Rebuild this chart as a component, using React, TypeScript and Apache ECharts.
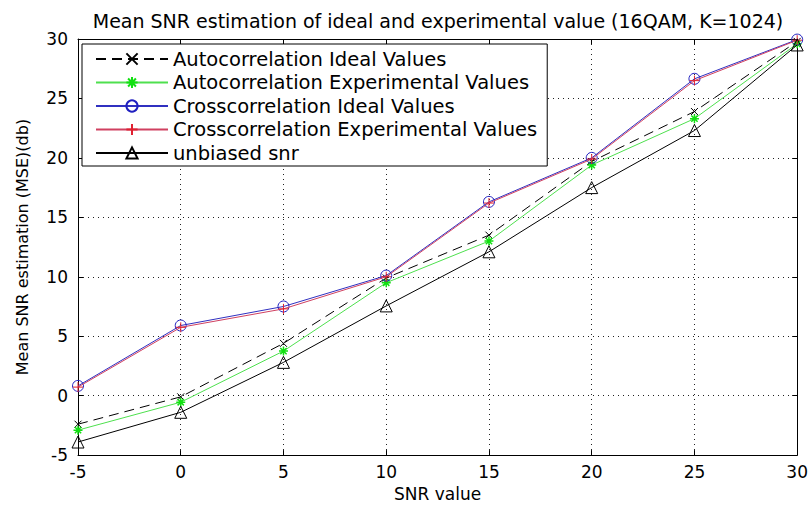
import React, { useEffect, useRef } from "react";
import * as echarts from "echarts";

const snr = [-5, 0, 5, 10, 15, 20, 25, 30];
const autoIdeal = [-2.4, -0.1, 4.4, 9.9, 13.5, 19.7, 23.9, 29.8];
const autoExp = [-2.9, -0.55, 3.75, 9.5, 13.0, 19.4, 23.3, 29.6];
const crossIdeal = [0.82, 5.9, 7.5, 10.1, 16.3, 20.0, 26.65, 29.95];
const crossExp = [0.72, 5.75, 7.3, 10.0, 16.2, 19.9, 26.5, 29.9];
const unbiased = [-3.9, -1.4, 2.8, 7.55, 12.1, 17.5, 22.3, 29.5];

const seriesNames = [
  "Autocorrelation Ideal Values",
  "Autocorrelation Experimental Values",
  "Crosscorrelation Ideal Values",
  "Crosscorrelation Experimental Values",
  "unbiased snr",
];

const FONT = "DejaVu Sans";

const pairs = (ys: number[]) => snr.map((x, i) => [x, ys[i]]);

export default function App() {
  const ref = useRef<HTMLDivElement>(null);
  useEffect(() => {
    if (!ref.current) return;
    const chart = echarts.init(ref.current, undefined, { renderer: "svg" });
    const axisCommon = {
      type: "value" as const,
      min: -5,
      max: 30,
      interval: 5,
      axisLine: { show: true, onZero: false, lineStyle: { color: "#000", width: 1 } },
      axisTick: { show: true, inside: true, length: 5, lineStyle: { color: "#000" } },
    };
    chart.setOption({
      animation: false,
      backgroundColor: "#fff",
      title: {
        text: "Mean SNR estimation of ideal and experimental value (16QAM, K=1024)",
        left: 438,
        textAlign: "center",
        top: 11,
        padding: 0,
        textStyle: { fontFamily: FONT, fontSize: 19, fontWeight: "normal", color: "#000" },
      },
      grid: { left: 78, right: 6, top: 39, bottom: 40, containLabel: false },
      legend: {
        orient: "vertical",
        left: 82,
        top: 44,
        data: seriesNames,
        itemWidth: 72,
        itemHeight: 14,
        itemGap: 3.5,
        padding: [5, 10, 3, 13],
        borderColor: "#000",
        borderWidth: 1,
        backgroundColor: "#fff",
        textStyle: { fontFamily: FONT, fontSize: 19.5, color: "#000" },
      },
      xAxis: [
        {
          ...axisCommon,
          position: "bottom",
          name: "SNR value",
          nameLocation: "middle",
          nameGap: 28,
          nameTextStyle: { fontFamily: FONT, fontSize: 17, color: "#000" },
          axisLabel: { fontFamily: FONT, fontSize: 17, color: "#000", margin: 8 },
          splitLine: { show: true, lineStyle: { color: "#222", type: [1, 4], width: 1 } },
        },
        {
          ...axisCommon,
          position: "top",
          axisLabel: { show: false },
          splitLine: { show: false },
        },
      ],
      yAxis: [
        {
          ...axisCommon,
          position: "left",
          name: "Mean SNR estimation (MSE)(db)",
          nameLocation: "middle",
          nameRotate: 90,
          nameGap: 48,
          nameTextStyle: { fontFamily: FONT, fontSize: 16, color: "#000" },
          axisLabel: { fontFamily: FONT, fontSize: 17, color: "#000", margin: 10 },
          splitLine: { show: true, lineStyle: { color: "#222", type: [1, 4], width: 1 } },
        },
        {
          ...axisCommon,
          position: "right",
          axisLabel: { show: false },
          splitLine: { show: false },
        },
      ],
      series: [
        {
          name: seriesNames[0],
          type: "line",
          data: pairs(autoIdeal),
          symbol: "path://M0,0L10,10M0,10L10,0",
          symbolSize: 7,
          itemStyle: { color: "transparent", borderColor: "#000", borderWidth: 1 },
          lineStyle: { color: "#000", width: 1, type: [10, 6] },
          z: 2,
        },
        {
          name: seriesNames[1],
          type: "line",
          data: pairs(autoExp),
          symbol: "path://M5,0L5,10M0,5L10,5M1.5,1.5L8.5,8.5M1.5,8.5L8.5,1.5",
          symbolSize: 9,
          itemStyle: { color: "transparent", borderColor: "#11e011", borderWidth: 1.5 },
          lineStyle: { color: "#4ee04e", width: 1 },
          z: 3,
        },
        {
          name: seriesNames[2],
          type: "line",
          data: pairs(crossIdeal),
          symbol: "circle",
          symbolSize: 11,
          itemStyle: { color: "transparent", borderColor: "#2020c0", borderWidth: 1 },
          lineStyle: { color: "#3030c0", width: 1 },
          z: 4,
        },
        {
          name: seriesNames[3],
          type: "line",
          data: pairs(crossExp),
          symbol: "path://M5,0L5,10M0,5L10,5",
          symbolSize: 10,
          itemStyle: { color: "transparent", borderColor: "#e02030", borderWidth: 1 },
          lineStyle: { color: "#d04060", width: 1 },
          z: 5,
        },
        {
          name: seriesNames[4],
          type: "line",
          data: pairs(unbiased),
          symbol: "triangle",
          symbolSize: 12,
          itemStyle: { color: "transparent", borderColor: "#000", borderWidth: 1 },
          lineStyle: { color: "#000", width: 1 },
          z: 6,
        },
      ],
    });
    return () => chart.dispose();
  }, []);
  return <div ref={ref} style={{ width: 811, height: 507, position: "absolute", left: 0, top: 0 }} />;
}
